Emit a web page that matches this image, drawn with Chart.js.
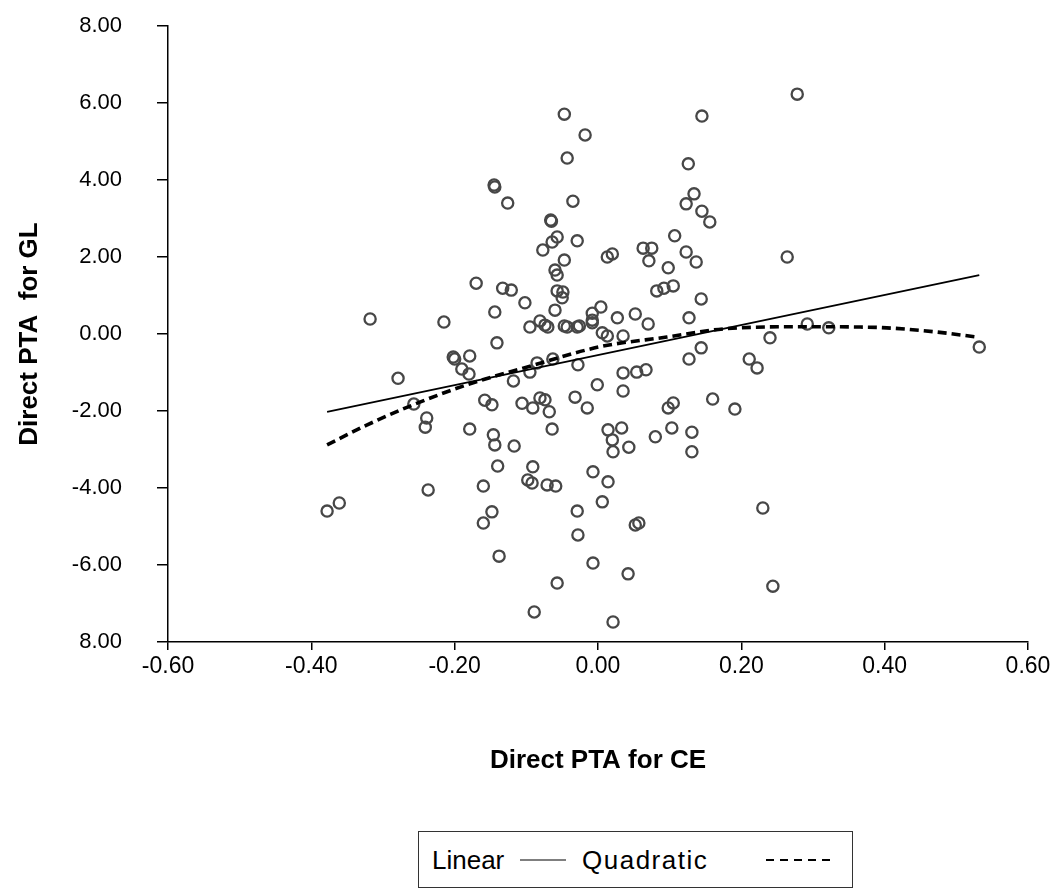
<!DOCTYPE html>
<html>
<head>
<meta charset="utf-8">
<script src="https://cdn.jsdelivr.net/npm/chart.js@4.4.1/dist/chart.umd.min.js"></script>
<style>
  html, body { margin: 0; padding: 0; background: #ffffff; }
  #wrap { position: relative; width: 1061px; height: 890px; }
  #c { position: absolute; left: 0; top: 0; }
  #legend {
    position: absolute; left: 418px; top: 831px; width: 435px; height: 57px;
    border: 1.5px solid #333; box-sizing: border-box; background: #fff;
    font-family: 'Liberation Sans', Arial, sans-serif; font-size: 26px; color: #000;
  }
  #legend span { position: absolute; top: 50%; transform: translateY(-50%); white-space: nowrap; }
  #legend .solid { height: 0; border-top: 1.8px solid #000; width: 46px; }
  #legend .dash { height: 2px; width: 66px;
    background: repeating-linear-gradient(to right, #000 0, #000 8px, transparent 8px, transparent 14px); }
</style>
</head>
<body>
<div id="wrap">
  <canvas id="c" width="1061" height="890"></canvas>
  <div id="legend">
    <span style="left:13px">Linear</span>
    <span class="solid" style="left:101px"></span>
    <span style="left:163px; letter-spacing:1.5px">Quadratic</span>
    <span class="dash" style="left:347px"></span>
  </div>
</div>
<script>
// ---- data ----
const xTickValues = [-0.6, -0.4, -0.2, 0, 0.2, 0.4, 0.6];
const xTickLabels = ["-0.60", "-0.40", "-0.20", "0.00", "0.20", "0.40", "0.60"];
const yTickValues = [-8, -6, -4, -2, 0, 2, 4, 6, 8];
const yTickLabels = ["8.00", "-6.00", "-4.00", "-2.00", "0.00", "2.00", "4.00", "6.00", "8.00"];

const ceValues = [
  0.278, -0.047, -0.018, 0.145, -0.043, -0.145, -0.144, 0.126, -0.126, -0.035,
  0.134, 0.123, 0.145, 0.156, -0.066, -0.065, -0.057, -0.064, -0.077, -0.029,
  -0.047, -0.060, -0.057, 0.013, 0.020, 0.063, 0.075, 0.071, 0.107, 0.098,
  0.082, 0.092, 0.105, 0.123, 0.137, 0.264, -0.170, -0.133, -0.121, -0.057,
  -0.049, -0.050, -0.102, -0.144, -0.060, 0.004, 0.052, 0.027, 0.070, -0.008,
  -0.008, -0.008, 0.006, 0.013, 0.035, -0.095, -0.081, -0.074, -0.070, -0.047,
  -0.043, -0.029, -0.026, -0.318, -0.215, -0.141, -0.202, -0.179, -0.200, 0.144,
  0.127, 0.292, 0.322, 0.240, 0.144, 0.532, -0.190, -0.180, -0.279, -0.257,
  -0.158, -0.148, -0.239, -0.241, -0.179, -0.146, -0.144, -0.140, -0.237, -0.160,
  -0.148, -0.160, -0.361, -0.378, -0.138, -0.118, -0.095, -0.085, -0.063, -0.028,
  -0.001, 0.035, 0.054, 0.067, 0.035, -0.106, -0.091, -0.081, -0.074, -0.068,
  -0.032, -0.015, -0.064, -0.117, 0.014, 0.033, 0.020, 0.021, 0.043, 0.080,
  0.098, 0.105, 0.103, -0.091, -0.098, -0.092, -0.071, -0.059, -0.007, 0.014,
  0.006, -0.029, -0.028, 0.052, 0.057, -0.007, 0.042, -0.057, -0.089, 0.021,
  0.127, 0.211, 0.222, 0.160, 0.191, 0.131, 0.131, 0.230, 0.244
];
const glValues = [
  6.23, 5.71, 5.17, 5.66, 4.57, 3.87, 3.82, 4.42, 3.40, 3.45,
  3.64, 3.38, 3.19, 2.91, 2.96, 2.93, 2.52, 2.39, 2.18, 2.42,
  1.92, 1.66, 1.53, 2.00, 2.08, 2.23, 2.23, 1.90, 2.55, 1.72,
  1.12, 1.19, 1.25, 2.13, 1.87, 2.00, 1.32, 1.19, 1.14, 1.12,
  1.09, 0.94, 0.81, 0.57, 0.62, 0.70, 0.52, 0.42, 0.26, 0.54,
  0.36, 0.29, 0.03, -0.05, -0.05, 0.18, 0.34, 0.23, 0.18, 0.21,
  0.18, 0.18, 0.21, 0.39, 0.31, -0.23, -0.60, -0.57, -0.65, 0.91,
  0.42, 0.26, 0.16, -0.10, -0.36, -0.34, -0.91, -1.04, -1.15, -1.82,
  -1.72, -1.84, -2.18, -2.42, -2.47, -2.62, -2.88, -3.43, -4.05, -3.95,
  -4.62, -4.91, -4.39, -4.60, -5.77, -1.22, -0.99, -0.75, -0.65, -0.80,
  -1.32, -1.01, -0.99, -0.93, -1.48, -1.80, -1.92, -1.66, -1.71, -2.02,
  -1.64, -1.92, -2.47, -2.91, -2.49, -2.44, -2.75, -3.06, -2.94, -2.67,
  -1.92, -1.79, -2.44, -3.45, -3.79, -3.87, -3.92, -3.95, -3.58, -3.84,
  -4.36, -4.60, -5.22, -4.96, -4.91, -5.95, -6.23, -6.47, -7.22, -7.48,
  -0.65, -0.65, -0.88, -1.69, -1.95, -2.55, -3.06, -4.52, -6.55
];

const linearX = [-0.378, 0.532];
const linearY = [-2.02, 1.53];

const quadX = [-0.378, -0.322, -0.258, -0.183, -0.090, 0.003, 0.096, 0.180, 0.290, 0.366, 0.403, 0.473, 0.529];
const quadY = [-2.88, -2.36, -1.84, -1.32, -0.81, -0.33, -0.08, 0.14, 0.19, 0.18, 0.16, 0.05, -0.08];

const xTitle = "Direct PTA for CE";
const yTitle = "Direct PTA  for GL";

// ---- build chart ----
const pts = ceValues.map((x, i) => ({ x: x, y: glValues[i] }));
const lin = linearX.map((x, i) => ({ x: x, y: linearY[i] }));
const quad = quadX.map((x, i) => ({ x: x, y: quadY[i] }));

const tickFontY = { family: "'Liberation Sans', Arial, sans-serif", size: 22 };
const tickFontX = { family: "'Liberation Sans', Arial, sans-serif", size: 23 };
const titleFont = { family: "'Liberation Sans', Arial, sans-serif", size: 26, weight: 'bold' };

new Chart(document.getElementById('c'), {
  type: 'scatter',
  data: {
    datasets: [
      {
        label: 'Linear', data: lin, showLine: true, pointRadius: 0,
        borderColor: '#000', borderWidth: 1.8, fill: false, order: 1
      },
      {
        label: 'Quadratic', data: quad, showLine: true, pointRadius: 0,
        borderColor: '#000', borderWidth: 3.6, borderDash: [9, 5], tension: 0.4,
        cubicInterpolationMode: 'monotone', fill: false, order: 2
      },
      {
        label: 'Data', data: pts, pointRadius: 5.6, pointStyle: 'circle',
        pointBorderWidth: 2.3, pointBorderColor: '#474747',
        pointBackgroundColor: 'rgba(255,255,255,0)', showLine: false, order: 3
      }
    ]
  },
  options: {
    responsive: false,
    animation: false,
    devicePixelRatio: 1,
    layout: { padding: { left: 0, right: 33, top: 26, bottom: 110 } },
    plugins: { legend: { display: false }, tooltip: { enabled: false } },
    scales: {
      x: {
        type: 'linear', min: -0.6, max: 0.6,
        afterBuildTicks: (s) => { s.ticks = xTickValues.map(v => ({ value: v })); },
        afterFit: (s) => { s.height = 138; s.paddingRight = 20; s.paddingLeft = 20; },
        ticks: {
          color: '#000', font: tickFontX, padding: 3, maxRotation: 0, autoSkip: false,
          callback: (v, i) => xTickLabels[i]
        },
        grid: { drawOnChartArea: false, drawTicks: true, tickLength: 8, color: '#000', lineWidth: 1.5 },
        border: { color: '#000', width: 1.5 },
        title: { display: true, text: xTitle, color: '#000', font: titleFont, padding: { top: 0, bottom: 4 } }
      },
      y: {
        type: 'linear', min: -8, max: 8,
        afterBuildTicks: (s) => { s.ticks = yTickValues.map(v => ({ value: v })); },
        afterFit: (s) => { s.width = 168; s.paddingTop = 12; s.paddingBottom = 12; },
        ticks: {
          color: '#000', font: tickFontY, padding: 35, autoSkip: false,
          callback: (v, i) => yTickLabels[i]
        },
        grid: { drawOnChartArea: false, drawTicks: true, tickLength: 11, color: '#000', lineWidth: 1.5 },
        border: { color: '#000', width: 1.5 },
        title: { display: true, text: yTitle, color: '#000', font: titleFont, padding: { top: 14, bottom: 0 } }
      }
    }
  }
});
</script>
</body>
</html>
